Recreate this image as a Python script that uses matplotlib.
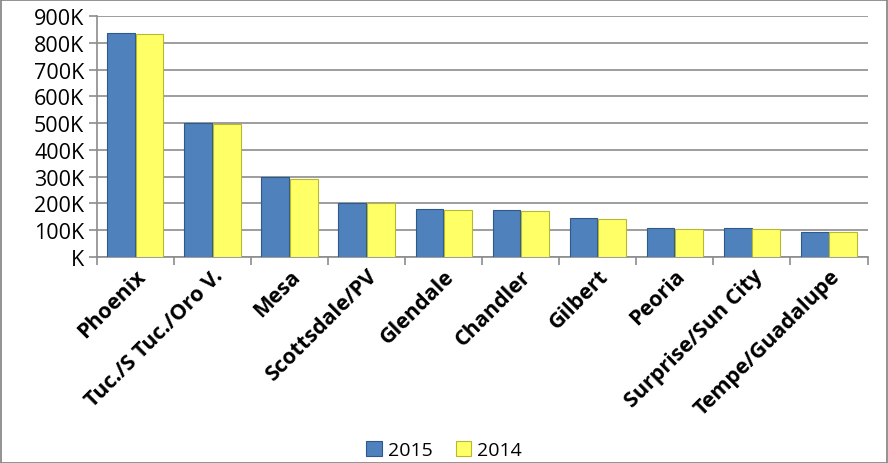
import matplotlib
matplotlib.use("Agg")
import matplotlib.pyplot as plt
import numpy as np
from matplotlib.ticker import FuncFormatter, MultipleLocator

cities = ["Phoenix", "Tuc./S Tuc./Oro V.", "Mesa", "Scottsdale/PV", "Glendale",
          "Chandler", "Gilbert", "Peoria", "Surprise/Sun City", "Tempe/Guadalupe"]
vals_2015 = [836, 500, 298, 201, 179, 174, 147, 108, 107, 93]
vals_2014 = [832, 496, 291, 201, 175, 172, 143, 106, 106, 92]

plt.rcParams['font.family'] = ['Open Sans', 'DejaVu Sans']

fig = plt.figure(figsize=(8.88, 4.64), dpi=100)
ax = fig.add_axes([0.109, 0.444, 0.868, 0.519])

x = np.arange(len(cities))
w = 0.36
ax.bar(x - w / 2 - 0.005, vals_2015, w, color="#4F81BD", edgecolor="#2C5A8C",
       linewidth=0.8, label="2015", zorder=3)
ax.bar(x + w / 2 + 0.005, vals_2014, w, color="#FFFF66", edgecolor="#B8B830",
       linewidth=0.8, label="2014", zorder=3)

ax.set_xlim(-0.5, len(cities) - 0.5)
ax.set_ylim(0, 900)
ax.yaxis.set_major_locator(MultipleLocator(100))
ax.yaxis.set_major_formatter(FuncFormatter(lambda v, p: "K" if v == 0 else f"{int(v)}K"))
ax.grid(axis="y", color="#8C8C8C", linewidth=1.2, zorder=0)

ax.set_xticks(np.arange(len(cities) + 1) - 0.5, minor=False)
ax.set_xticklabels([])
ax.set_xticks(x, minor=True)
ax.set_xticklabels(cities, minor=True, rotation=45, ha="right", rotation_mode="anchor",
                   fontsize=15.5, fontweight="bold")
ax.tick_params(axis="x", which="minor", length=0, pad=6)
ax.tick_params(axis="x", which="major", length=6, color="#8C8C8C", width=1.2)
ax.tick_params(axis="y", length=6, color="#8C8C8C", width=1.2, labelsize=15.5, pad=3)

for s in ["top", "right"]:
    ax.spines[s].set_visible(False)
for s in ["left", "bottom"]:
    ax.spines[s].set_color("#8C8C8C")
    ax.spines[s].set_linewidth(1.2)

leg = fig.legend(loc="lower center", bbox_to_anchor=(0.5, -0.03), ncol=2, frameon=False,
                 fontsize=14, handlelength=0.8, handleheight=0.8, columnspacing=1.2,
                 handletextpad=0.3)

fig.patches.append(plt.Rectangle((0.001, 0.001), 0.998, 0.997, transform=fig.transFigure,
                                 fill=False, edgecolor="#7F7F7F", linewidth=1.2))

fig.savefig("out.png", dpi=100)
